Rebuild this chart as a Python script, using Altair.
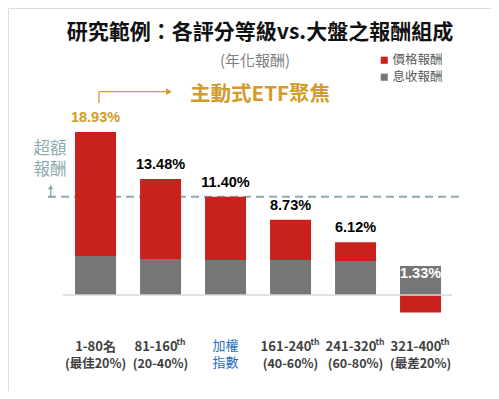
import altair as alt
import pandas as pd

categories = ["1-80名", "81-160th", "加權指數", "161-240th", "241-320th", "321-400th"]
line1 = ["1-80名", "81-160", "加權", "161-240", "241-320", "321-400"]
suffix = ["", "th", "", "th", "th", "th"]
line2 = ["(最佳20%)", "(20-40%)", "指數", "(40-60%)", "(60-80%)", "(最差20%)"]
totals = [18.93, 13.48, 11.40, 8.73, 6.12, 1.33]
dividend = [4.53, 4.18, 4.07, 4.07, 3.95, 3.37]
price = [round(t - d, 2) for t, d in zip(totals, dividend)]
label_group = ["rank", "rank", "index", "rank", "rank", "rank"]
value_group = ["top", "mid", "mid", "mid", "mid", "low"]
benchmark = 11.40

FONT = "Noto Sans CJK TC"
NUMFONT = "Liberation Sans"
RED = "#c9211e"
GRAY = "#767676"
TEAL = "#8eaab0"
GOLD = "#d39b2a"

rows = []
for c, d, p in zip(categories, dividend, price):
    rows.append({"cat": c, "series": "息收報酬", "value": d, "ord": 0})
    rows.append({"cat": c, "series": "價格報酬", "value": p, "ord": 1})
bars_df = pd.DataFrame(rows)

lab_df = pd.DataFrame({
    "cat": categories, "total": totals, "l1": line1, "l2": line2, "sup": suffix,
    "lg": label_group, "vg": value_group,
    "txt": [f"{t:.2f}%" for t in totals],
})

xscale = alt.Scale(domain=categories, paddingInner=0.369, paddingOuter=0.9, align=0.573)
yscale = alt.Scale(domain=[-11.15, 33.33], nice=False, zero=False)
X = alt.X("cat:N", scale=xscale, axis=None, sort=categories)

bars = alt.Chart(bars_df).mark_bar(width=41).encode(
    x=X,
    y=alt.Y("value:Q", scale=yscale, axis=None, stack="zero"),
    color=alt.Color("series:N",
                    scale=alt.Scale(domain=["價格報酬", "息收報酬"], range=[RED, GRAY]),
                    legend=alt.Legend(title=None, orient="none", legendX=370, legendY=46,
                                      symbolType="square", symbolSize=50, symbolStrokeWidth=0,
                                      labelFont=FONT, labelFontSize=12.5, labelColor="#595959",
                                      rowPadding=4, labelOffset=2)),
    order=alt.Order("ord:Q"),
)

base = alt.Chart(lab_df)
one = base.transform_filter("datum.cat == '1-80名'")

baseline = one.transform_calculate(z="0").mark_rule(color="#d9d9d9", strokeWidth=1.5).encode(
    y=alt.Y("z:Q", scale=yscale, axis=None),
    x=alt.value(55), x2=alt.value(444),
)

bench = one.transform_calculate(b=str(benchmark)).mark_rule(
    color=TEAL, strokeWidth=2, strokeDash=[8, 5]).encode(
    y=alt.Y("b:Q", scale=yscale, axis=None),
    x=alt.value(40), x2=alt.value(454),
)

def vals(group, color, dy):
    return base.transform_filter(f"datum.vg == '{group}'").mark_text(
        font=NUMFONT, fontWeight="bold", fontSize=14.5, dy=dy, baseline="middle", color=color
    ).encode(x=X, y=alt.Y("total:Q", scale=yscale, axis=None), text="txt:N")

v_top = vals("top", GOLD, -14)
v_mid = vals("mid", "#000000", -14)
v_low = vals("low", "#ffffff", -10)

rank_src = base.transform_filter("datum.lg == 'rank'")
idx_src = base.transform_filter("datum.lg == 'index'")

xl1_first = rank_src.transform_filter("datum.sup == ''").mark_text(
    font=FONT, fontWeight="bold", fontSize=13, baseline="middle", color="#404040"
).encode(x=X, y=alt.value(339), text="l1:N")
xl1_sup = rank_src.transform_filter("datum.sup != ''").mark_text(
    font=FONT, fontWeight="bold", fontSize=13, baseline="middle", color="#404040", dx=-4.5
).encode(x=X, y=alt.value(339), text="l1:N")
xl2_rank = rank_src.mark_text(font=FONT, fontWeight="bold", fontSize=12.5, baseline="middle",
                              color="#404040").encode(x=X, y=alt.value(356), text="l2:N")

def sup_layer(nchar, dx):
    return base.transform_filter(f"datum.sup != '' && length(datum.l1) == {nchar}").mark_text(
        font=FONT, fontWeight="bold", fontSize=8.5, baseline="middle", align="left",
        color="#404040", dx=dx).encode(x=X, y=alt.value(334), text="sup:N")

sup6 = sup_layer(6, 16)
sup7 = sup_layer(7, 20)

xl1_idx = idx_src.mark_text(font=FONT, fontSize=13, baseline="middle",
                            color="#1f6dbf").encode(x=X, y=alt.value(338), text="l1:N")
xl2_idx = idx_src.mark_text(font=FONT, fontSize=13, baseline="middle",
                            color="#1f6dbf").encode(x=X, y=alt.value(355), text="l2:N")

title = one.mark_text(font=FONT, fontWeight="bold", fontSize=21, color="#111111", baseline="middle").encode(
    x=alt.value(252), y=alt.value(25), text=alt.value("研究範例：各評分等級vs.大盤之報酬組成"))
subtitle = one.mark_text(font=FONT, fontSize=15, color="#7f7f7f", baseline="middle").encode(
    x=alt.value(247), y=alt.value(53), text=alt.value("(年化報酬)"))
focus = one.mark_text(font=FONT, fontWeight="bold", fontSize=20.5, color=GOLD, baseline="middle").encode(
    x=alt.value(252), y=alt.value(87), text=alt.value("主動式ETF聚焦"))
arr_v = one.mark_rule(color=GOLD, strokeWidth=1.3).encode(
    x=alt.value(91), y=alt.value(83.7), y2=alt.value(95))
arr_h = one.mark_rule(color=GOLD, strokeWidth=1.3).encode(
    x=alt.value(91), x2=alt.value(159), y=alt.value(83.7))
arr_head = one.mark_point(shape="triangle-right", filled=True, color=GOLD, size=45, opacity=1).encode(
    x=alt.value(161), y=alt.value(83.7))

ex1 = one.mark_text(font=FONT, fontSize=16.5, color=TEAL, baseline="middle").encode(
    x=alt.value(42), y=alt.value(141), text=alt.value("超額"))
ex2 = one.mark_text(font=FONT, fontSize=16.5, color=TEAL, baseline="middle").encode(
    x=alt.value(42), y=alt.value(162), text=alt.value("報酬"))
up_shaft = one.mark_rule(color=TEAL, strokeWidth=1.5).encode(
    x=alt.value(42.7), y=alt.value(180), y2=alt.value(189.7))
up_head = one.mark_point(shape="triangle-up", filled=True, color=TEAL, size=30, opacity=1).encode(
    x=alt.value(42.7), y=alt.value(179))

chart = alt.layer(
    bench, bars, baseline, v_top, v_mid, v_low,
    xl1_first, xl1_sup, xl2_rank, sup6, sup7, xl1_idx, xl2_idx,
    title, subtitle, focus, arr_v, arr_h, arr_head, ex1, ex2, up_shaft, up_head,
).properties(width=483, height=383, padding=0, autosize=alt.AutoSizeParams(type="none")
).configure_view(stroke=None, strokeWidth=0
).configure_axis(domain=False, grid=False, ticks=False, labels=False
).configure(background="white")

chart.save("out.html", embed_options={"renderer": "svg", "actions": False})
